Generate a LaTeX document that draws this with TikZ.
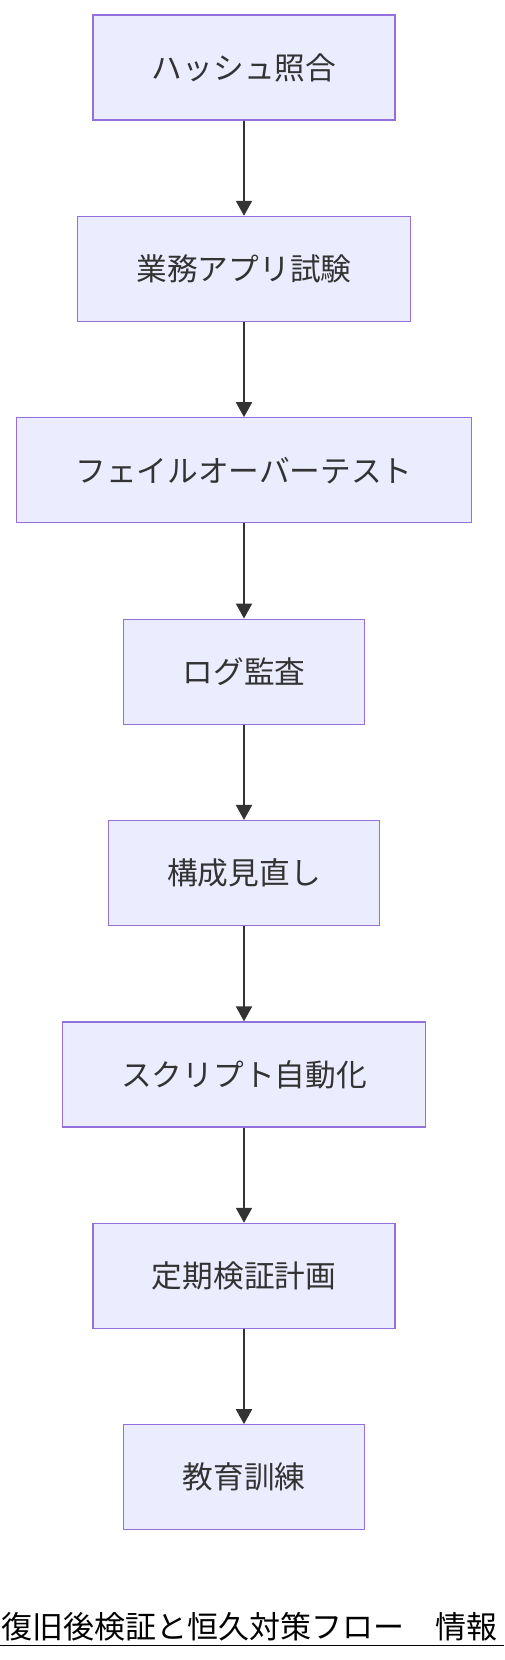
\documentclass[tikz,border=0pt]{standalone}
\usepackage{fontspec}
\usepackage{xcolor}
\usetikzlibrary{arrows.meta}
\newfontfamily\jpfont{Noto Sans CJK JP}
\definecolor{boxfill}{HTML}{ECECFF}
\definecolor{boxline}{HTML}{9370DB}
\definecolor{ink}{HTML}{333333}

\begin{document}
\begin{tikzpicture}[x=1pt,y=-1pt,
	stepbox/.style={draw=boxline,fill=boxfill,line width=1.3pt,text=ink,
		inner xsep=59pt,inner ysep=0pt,minimum height=105pt,
		font=\jpfont\fontsize{30.7}{36}\selectfont},
	flow/.style={draw=ink,line width=2pt,-{Triangle[width=16pt,length=15pt]}}]
	\useasboundingbox (0,0) rectangle (504,1660);
	\clip (0,0) rectangle (504,1660);

	\node[stepbox] (hash) at (244,67.5) {ハッシュ照合};
	\node[stepbox] (app) at (244,268.9) {業務アプリ試験};
	\node[stepbox] (failover) at (244,470.3) {フェイルオーバーテスト};
	\node[stepbox] (log) at (244,671.7) {ログ監査};
	\node[stepbox] (config) at (244,873.1) {構成見直し};
	\node[stepbox] (script) at (244,1074.5) {スクリプト自動化};
	\node[stepbox] (plan) at (244,1275.9) {定期検証計画};
	\node[stepbox] (train) at (244,1477.3) {教育訓練};

	\foreach \a/\b in {hash/app,app/failover,failover/log,log/config,config/script,script/plan,plan/train}{
		\draw[flow] (\a.south) -- (\b.north);
	}

	% title
	\node[anchor=base west,inner sep=0pt,text=black,
		font=\jpfont\fontsize{31}{36}\selectfont] (title) at (1,1638) {復旧後検証と恒久対策フロー　情報};
	\draw[black,line width=1.2pt] (0,1645.7) -- (504,1645.7);
\end{tikzpicture}
\end{document}
